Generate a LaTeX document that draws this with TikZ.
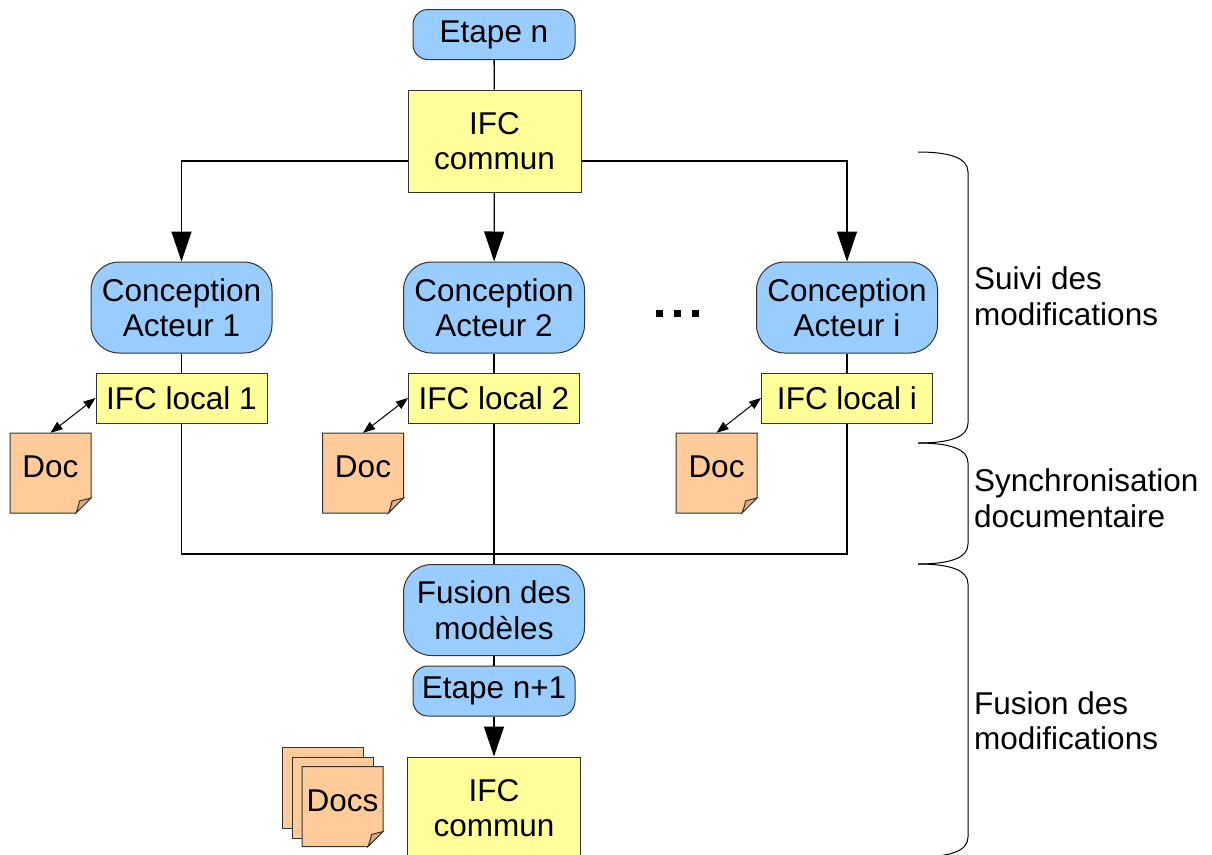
\documentclass[tikz,border=0pt]{standalone}
\usepackage{fontspec}
\setmainfont{Liberation Sans}
\usepackage{tikz}
\usetikzlibrary{arrows.meta, calc}
\usepackage{xcolor}
\definecolor{bleu}{HTML}{99CCFF}
\definecolor{jaune}{HTML}{FFFF99}
\definecolor{papier}{HTML}{FFCC99}
\definecolor{pli}{HTML}{DDAE84}
\definecolor{bord}{HTML}{333333}
% feuille avec coin plie (centre)
\newcommand{\docFeuille}[1]{
\filldraw[draw=bord, fill=papier, line width=1pt] ($(#1)+(-40.5,-40)$) -- ++(81,0) -- ++(0,65) -- ++(-15,15) -- ++(-66,0) -- cycle;
\filldraw[draw=bord, fill=pli, line width=1pt] ($(#1)+(40.5,25)$) .. controls ($(#1)+(34,26)$) .. ($(#1)+(29,28)$) .. controls ($(#1)+(28,33)$) .. ($(#1)+(25.5,40)$) -- cycle;
}
% accolade a droite
\newcommand{\accolade}[2]{
\draw[line width=1pt] (918,#1) .. controls (950,#1) and (968,#1+6) .. (968,#1+20) -- (968,#2-20) .. controls (968,#2-6) and (950,#2) .. (918,#2);
}

\begin{document}
\begin{tikzpicture}[x=1pt, y=-1pt,
    every node/.style={font=\fontsize{31.5}{35.5}\selectfont, inner sep=0pt},
    etape/.style={draw=bord, fill=bleu, line width=1pt, rounded corners=15pt, minimum width=162pt, minimum height=50pt},
    acteur/.style={draw=bord, fill=bleu, line width=1pt, rounded corners=28pt, minimum width=181pt, minimum height=91pt, align=center},
    ifc/.style={draw=bord, fill=jaune, line width=1pt, minimum width=173pt, minimum height=102pt, align=center},
    local/.style={draw=bord, fill=jaune, line width=1pt, minimum width=171pt, minimum height=50pt},
    doc/.style={minimum width=81pt, minimum height=68pt},
    note/.style={anchor=west, align=left},
    lien/.style={line width=1.3pt},
    fleche/.style={line width=1.3pt, -{Triangle[length=30pt,width=20pt]}},
    double/.style={line width=1pt, {Triangle[length=12pt,width=9pt]}-{Triangle[length=12pt,width=9pt]}}]
    \useasboundingbox (0,0) rectangle (1212,854);
    % Etape n
    \node[etape] (etn) at (494,34.5) {Etape n};
    \node[ifc] (ifc0) at (494.5,141) {IFC\\commun};
    % Acteurs
    \node[acteur] (act1) at (181.5,307.5) {Conception\\Acteur 1};
    \node[acteur] (act2) at (494,307.5) {Conception\\Acteur 2};
    \node[acteur] (act3) at (847,307.5) {Conception\\Acteur i};
    \foreach \x in {656,674,692}
        \fill (\x,310) rectangle ++(7,7);
    % IFC locaux
    \node[local] (loc1) at (181.5,398) {IFC local 1};
    \node[local] (loc2) at (494,398) {IFC local 2};
    \node[local] (loc3) at (847,398) {IFC local i};
    % Documents
    \docFeuille{50.5,473}
    \node[doc] (doc1) at (50.5,467) {Doc};
    \docFeuille{363,473}
    \node[doc] (doc2) at (363,467) {Doc};
    \docFeuille{716.5,473}
    \node[doc] (doc3) at (716.5,467) {Doc};
    % Fusion
    \coordinate (jonction) at (494,554);
    \node[acteur] (fus) at (494,610) {Fusion des\\modèles};
    \node[etape] (etn1) at (494,691) {Etape n+1};
    \node[ifc] (ifc1) at (494,808) {IFC\\commun};
    % pile de documents
    \filldraw[draw=bord, fill=papier, line width=1pt] (282,747) rectangle ++(81,81);
    \filldraw[draw=bord, fill=papier, line width=1pt] (292,757) rectangle ++(81,81);
    \docFeuille{342.5,806.5}
    \node[doc] (docs) at (342.5,800.5) {Docs};
    % liens
    \draw[lien] (etn) -- (ifc0);
    \draw[fleche] (ifc0) -- (act2);
    \draw[fleche] ([yshift=-20pt]ifc0.west) -| (act1);
    \draw[fleche] ([yshift=-20pt]ifc0.east) -| (act3);
    \draw[lien] (act1) -- (loc1);
    \draw[lien] (act2) -- (loc2);
    \draw[lien] (act3) -- (loc3);
    \draw[double] (doc1.north) -- (loc1.west);
    \draw[double] (doc2.north) -- (loc2.west);
    \draw[double] (doc3.north) -- (loc3.west);
    \draw[lien] (loc1) |- (jonction) -| (loc3);
    \draw[lien] (loc2) -- (fus);
    \draw[lien] (fus) -- (etn1);
    \draw[fleche] (etn1) -- (ifc1);
    % accolades
    \accolade{152}{443}
    \accolade{443}{564}
    \accolade{564}{857}
    \node[note] (suivi) at (974,296) {Suivi des\\modifications};
    \node[note] (synchro) at (974,498) {Synchronisation\\documentaire};
    \node[note] (fusmod) at (974,720.5) {Fusion des\\modifications};
\end{tikzpicture}
\end{document}
